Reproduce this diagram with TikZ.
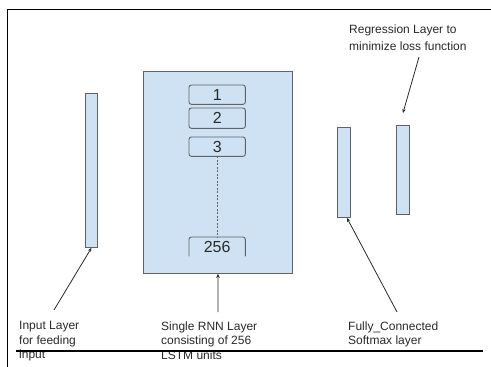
\documentclass[tikz,border=0pt]{standalone}
\usepackage{fontspec}
\setmainfont{Liberation Sans}
\usetikzlibrary{arrows.meta}
\definecolor{fillb}{HTML}{CFE2F3}
\definecolor{edgec}{HTML}{5F6368}
\definecolor{txtc}{HTML}{2A2A2A}
\begin{document}
\begin{tikzpicture}[x=1pt,y=-1pt,
  bar/.style={draw=edgec, fill=fillb, line width=0.9pt, anchor=north west, inner sep=0pt},
  unit/.style={fill=fillb, anchor=north west, inner sep=0pt, minimum width=56pt, minimum height=19pt,
    font=\fontsize{16}{16}\selectfont, text=txtc},
  unitedge/.style={draw=edgec, line width=0.9pt, rounded corners=2.5pt},
  lbl/.style={anchor=north west, inner sep=0pt, align=left, text=txtc,
    font=\fontsize{12}{14.5}\selectfont},
  arr/.style={draw=txtc, line width=0.8pt, -{Stealth[length=4pt,width=3.5pt]}}]
\useasboundingbox (0,0) rectangle (491,367);
\fill[white] (0,0) rectangle (491,367);

% layers
\node[bar, minimum width=12pt, minimum height=154pt] (inp) at (85,93) {};
\node[bar, minimum width=149pt, minimum height=202pt] (rnn) at (143,71) {};
\node[bar, minimum width=13pt, minimum height=90pt] (fc) at (337,127) {};
\node[bar, minimum width=13pt, minimum height=89pt] (reg) at (396,125) {};

% LSTM units
\node[unit] (u1) at (189,85) {1};
\node[unit, minimum height=20pt] (u2) at (189,108) {2};
\node[unit] (u3) at (189,137) {3};
\node[unit] (u256) at (189,237) {256};
\draw[unitedge] (u1.south west) rectangle (u1.north east);
\draw[unitedge] (u2.south west) rectangle (u2.north east);
\draw[unitedge] (u3.south west) rectangle (u3.north east);
\draw[unitedge] (u256.south west) -- (u256.north west) -- (u256.north east) -- (u256.south east);
\draw[edgec, line width=0.7pt, dash pattern=on 2pt off 1.5pt] (u3.south) -- (u256.north);

% labels
\node[lbl] (tin) at (19,321.5) {Input Layer\\for feeding\\input};
\node[lbl] (trnn) at (161,321.5) {Single RNN Layer\\consisting of 256\\LSTM units};
\node[lbl] (tfc) at (348,321.5) {Fully\_Connected\\Softmax layer};
\node[lbl, font=\fontsize{12}{17}\selectfont] (treg) at (349,24.5) {Regression Layer to\\minimize loss function};

% arrows
\coordinate (ain) at (54,310);
\coordinate (arnn) at (218,312);
\coordinate (afc) at (397,312);
\coordinate (areg) at (419,57);
\draw[arr] (ain) -- (inp.south);
\draw[arr] (arnn) -- (rnn.south);
\draw[arr] (afc) -- ([xshift=3pt]fc.south);
\draw[arr] (areg) -- ([yshift=12pt]reg.north);

% frame
\draw[black, line width=1.5pt] (7.5,367) -- (7.5,9.5) -- (491,9.5);
\draw[black, line width=2.5pt] (16,351) -- (483,351);
\end{tikzpicture}
\end{document}
